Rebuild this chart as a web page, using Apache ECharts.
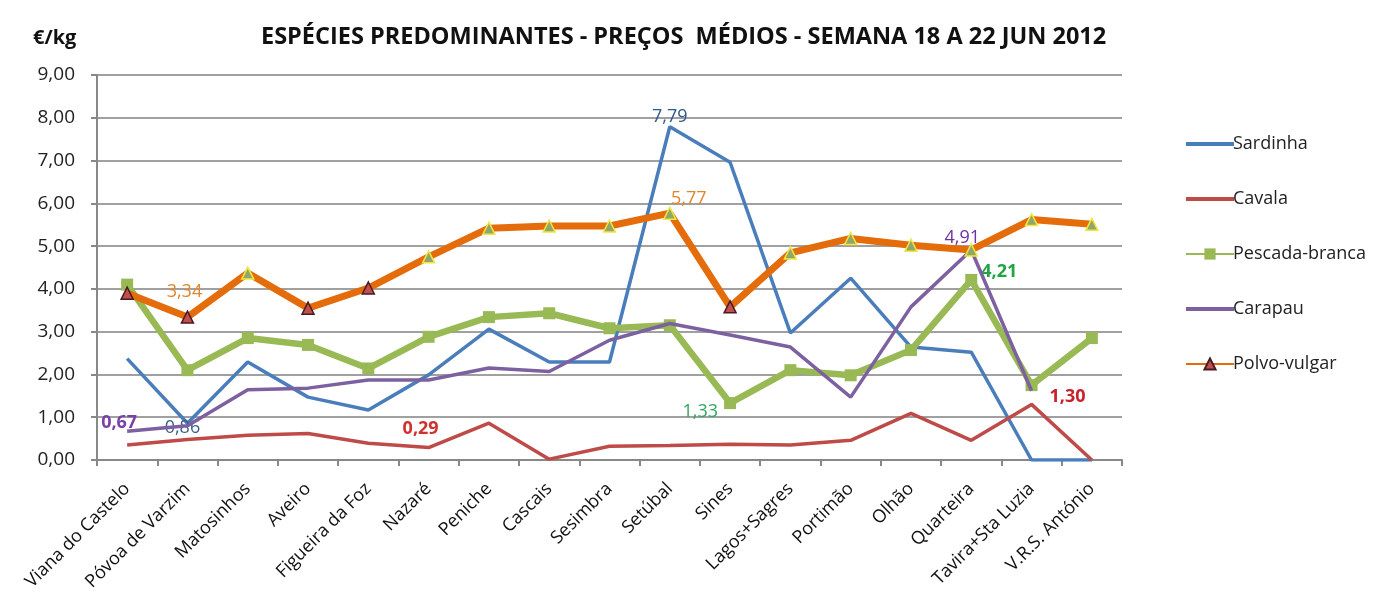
<!DOCTYPE html>
<html>
<head>
<meta charset="utf-8">
<script src="https://cdn.jsdelivr.net/npm/echarts@6/dist/echarts.min.js"></script>
<style>
html,body{margin:0;padding:0;background:#fff;}
#c{width:1393px;height:605px;}
</style>
</head>
<body>
<div id="c"></div>
<script>
// ---- data ----
const categories = ["Viana do Castelo","Póvoa de Varzim","Matosinhos","Aveiro","Figueira da Foz","Nazaré","Peniche","Cascais","Sesimbra","Setúbal","Sines","Lagos+Sagres","Portimão","Olhão","Quarteira","Tavira+Sta Luzia","V.R.S. António"];
const sardinha = [2.37,0.86,2.29,1.47,1.17,1.99,3.06,2.29,2.29,7.79,6.96,2.97,4.25,2.64,2.52,0,0];
const cavala = [0.35,0.48,0.58,0.62,0.39,0.29,0.86,0.02,0.32,0.34,0.37,0.35,0.46,1.09,0.46,1.30,0];
const pescada = [4.10,2.10,2.85,2.69,2.14,2.88,3.34,3.43,3.08,3.15,1.33,2.10,1.98,2.57,4.21,1.75,2.85];
const carapau = [0.67,0.80,1.64,1.68,1.87,1.87,2.15,2.07,2.80,3.19,2.92,2.64,1.47,3.58,4.91,1.62,null];
const polvo = [3.90,3.34,4.37,3.55,4.02,4.75,5.42,5.47,5.47,5.77,3.58,4.84,5.18,5.02,4.91,5.62,5.51];
const yTicks = [0,1,2,3,4,5,6,7,8,9];
const seriesNames = ['Sardinha','Cavala','Pescada-branca','Carapau','Polvo-vulgar'];

// ---- styling config ----
const fmt = v => v.toFixed(2).replace('.', ',');
const FONT = '"Open Sans", Lato, sans-serif';
const polvoRedMarkerIdx = [0,1,3,4,10];
// labelled points: [index, position, offset, color, weight]
const labelSpecs = {
  Sardinha: [[9,'top',[0,3],'#2E5A8C','normal'],[1,'bottom',[-5,-8],'#3B5F8A','normal']],
  Cavala: [[5,'top',[-8,-6],'#D0312D','bold'],[15,'right',[14,-8],'#C8222A','bold']],
  'Pescada-branca': [[10,'left',[-2,9],'#2DA862','normal'],[14,'right',[0,-8],'#21A446','bold']],
  Carapau: [[0,'top',[-8,5],'#7B3FA6','bold'],[14,'top',[-9,1],'#7030A0','normal']],
  'Polvo-vulgar': [[1,'top',[-3,-5],'#E0862E','normal'],[9,'top',[19,5],'#E0862E','normal']]
};

function buildData(name, values, extra) {
  const specs = labelSpecs[name] || [];
  return values.map((v, i) => {
    const item = { value: v };
    const s = specs.find(x => x[0] === i);
    if (s) {
      item.label = { show: true, position: s[1], offset: s[2], color: s[3],
        formatter: p => fmt(p.value), fontSize: 18, fontFamily: FONT, fontWeight: s[4], distance: 4 };
    }
    if (extra) Object.assign(item, extra(i));
    return item;
  });
}

const lineIcon = 'path://M0,0 L48,0 L48,4 L0,4 Z';

const chart = echarts.init(document.getElementById('c'), null, { renderer: 'canvas' });
const option = {
  animation: false,
  backgroundColor: '#fff',
  title: {
    text: 'ESPÉCIES PREDOMINANTES - PREÇOS  MÉDIOS - SEMANA 18 A 22 JUN 2012',
    left: 256, top: 20,
    textStyle: { fontFamily: FONT, fontSize: 23.5, fontWeight: 'bold', color: '#111' }
  },
  graphic: [{
    type: 'text', left: 33, top: 28,
    style: { text: '€/kg', fontFamily: FONT, fontSize: 20, fontWeight: 'bold', fill: '#111' }
  }],
  grid: { left: 97, right: 271, top: 75, bottom: 145, containLabel: false },
  legend: {
    orient: 'vertical', left: 1180, top: 130, itemWidth: 48, itemHeight: 14, itemGap: 37,
    textStyle: { fontFamily: FONT, fontSize: 18, color: '#222', padding: [0,0,0,-6] },
    data: [
      { name: seriesNames[0], icon: lineIcon },
      { name: seriesNames[1], icon: lineIcon },
      { name: seriesNames[2] },
      { name: seriesNames[3], icon: lineIcon },
      { name: seriesNames[4] }
    ]
  },
  xAxis: {
    type: 'category', data: categories, boundaryGap: true,
    axisLine: { lineStyle: { color: '#888', width: 2 } },
    axisTick: { show: true, length: 6, alignWithLabel: false, lineStyle: { color: '#888', width: 2 } },
    axisLabel: { interval: 0, rotate: 45, fontFamily: FONT, fontSize: 18, color: '#111', margin: 26 }
  },
  yAxis: {
    type: 'value', min: yTicks[0], max: yTicks[yTicks.length-1], interval: 1,
    axisLine: { show: true, lineStyle: { color: '#888', width: 2 } },
    axisTick: { show: true, length: 6, lineStyle: { color: '#888', width: 2 } },
    axisLabel: { formatter: v => fmt(v), fontFamily: FONT, fontSize: 19, color: '#222', margin: 22 },
    splitLine: { lineStyle: { color: '#A0A0A0', width: 2 } }
  },
  series: [
    { name: seriesNames[0], type: 'line', data: buildData(seriesNames[0], sardinha), showSymbol: true, symbol: 'circle', symbolSize: 0,
      color: '#4A7EBB', itemStyle: { color: '#4A7EBB' }, lineStyle: { width: 3.5, color: '#4A7EBB' }, z: 3 },
    { name: seriesNames[1], type: 'line', data: buildData(seriesNames[1], cavala), showSymbol: true, symbol: 'circle', symbolSize: 0,
      color: '#BE4B48', itemStyle: { color: '#BE4B48' }, lineStyle: { width: 3.5, color: '#BE4B48' }, z: 3 },
    { name: seriesNames[2], type: 'line', data: buildData(seriesNames[2], pescada), symbol: 'rect', symbolSize: 12,
      color: '#98B954', itemStyle: { color: '#98B954' }, lineStyle: { width: 6.5, color: '#98B954' }, z: 4 },
    { name: seriesNames[3], type: 'line', data: buildData(seriesNames[3], carapau), showSymbol: true, symbol: 'circle', symbolSize: 0,
      color: '#7D60A0', itemStyle: { color: '#7D60A0' }, lineStyle: { width: 3.5, color: '#7D60A0' }, z: 5 },
    { name: seriesNames[4], type: 'line', symbol: 'triangle', symbolSize: 12,
      data: buildData(seriesNames[4], polvo, i => polvoRedMarkerIdx.includes(i)
        ? { itemStyle: { color: '#C0504D', borderColor: '#4A1A22', borderWidth: 1.5 } }
        : { itemStyle: { color: '#8FA86A', borderColor: '#F2E640', borderWidth: 1.5 } }),
      color: '#E46C0A', itemStyle: { color: '#C0504D', borderColor: '#4A1A22', borderWidth: 1.5 },
      lineStyle: { width: 7, color: '#E46C0A' }, z: 6 }
  ]
};
chart.setOption(option);
</script>
</body>
</html>
